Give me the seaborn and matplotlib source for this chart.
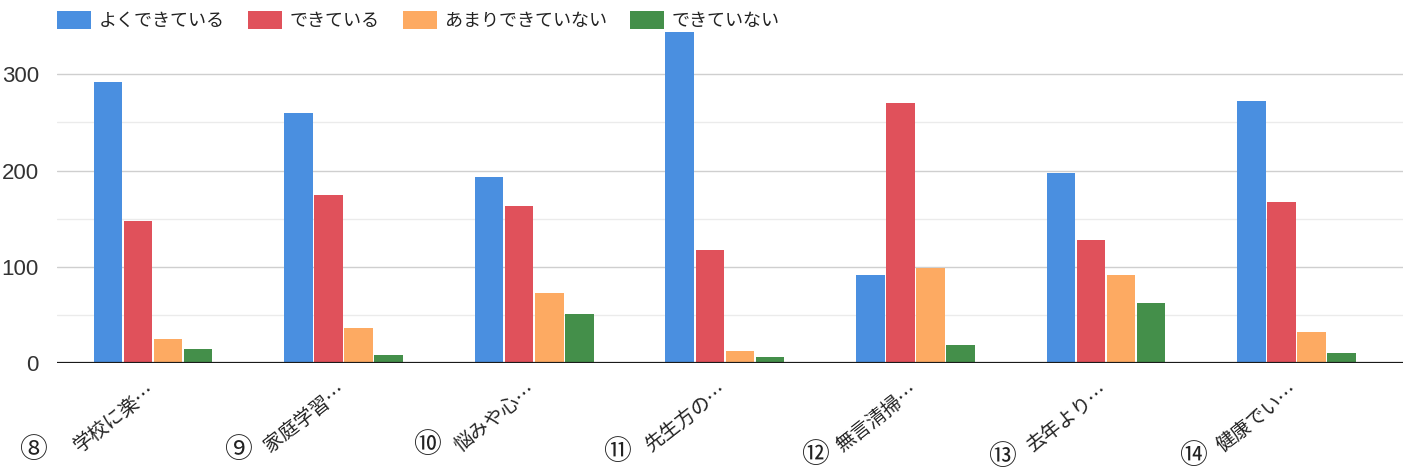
import matplotlib
matplotlib.use("Agg")
import matplotlib.pyplot as plt
import pandas as pd
import seaborn as sns

# Survey items (abbreviated as on the axis) and their question numbers
items = ["学校に楽…", "家庭学習…", "悩みや心…", "先生方の…", "無言清掃…", "去年より…", "健康でい…"]
item_numbers = ["⑧", "⑨", "⑩", "⑪", "⑫", "⑬", "⑭"]

# Answer categories
answers = ["よくできている", "できている", "あまりできていない", "できていない"]

# Number of respondents per answer, one list per item
well_done = [292, 260, 193, 344, 92, 198, 272]
done = [148, 175, 163, 118, 270, 128, 167]
mostly_not = [25, 37, 73, 13, 99, 92, 32]
not_done = [15, 9, 51, 7, 19, 63, 11]

yticks = [0, 100, 200, 300]
colors = ["#4a8fe0", "#e0515b", "#fdaa62", "#448f4a"]

rows = []
for series, answer in zip([well_done, done, mostly_not, not_done], answers):
    for item, value in zip(items, series):
        rows.append({"項目": item, "回答": answer, "人数": value})
df = pd.DataFrame(rows)

sns.set_theme(style="white")
plt.rcParams["font.family"] = ["Noto Sans CJK JP", "DejaVu Sans"]

W, H = 1407, 471
fig = plt.figure(figsize=(W / 100, H / 100), dpi=100)
fig.patch.set_facecolor("white")

# axes placed so that y=0 sits at 363 px and the plot spans x 57..1403 px
ax_left, ax_right = 57 / W, 1403 / W
ax_bottom = (H - 363.3) / H
ax_top = (H - 26.1) / H
ax = fig.add_axes([ax_left, ax_bottom, ax_right - ax_left, ax_top - ax_bottom])

sns.barplot(
    data=df, x="項目", y="人数", hue="回答", hue_order=answers, order=items,
    palette=colors, saturation=1, width=0.63, gap=0.05, linewidth=0, ax=ax,
)

ax.set_xlim(-0.505, 6.56)
ax.set_ylim(0, 350)
ax.set_xlabel("")
ax.set_ylabel("")
for s in ax.spines.values():
    s.set_visible(False)

# gridlines: major at each 100, faint minor halfway between
ax.set_yticks(yticks)
ax.set_yticks([50, 150, 250], minor=True)
ax.set_axisbelow(True)
ax.yaxis.grid(True, which="major", color="#cfcfcf", lw=1.0)
ax.yaxis.grid(True, which="minor", color="#ebebeb", lw=1.0)
ax.axhline(0, color="#1a1a1a", lw=1.6, zorder=5)

ax.tick_params(axis="y", which="both", length=0, pad=13, labelsize=16, labelcolor="#333333")
for lab in ax.get_yticklabels():
    lab.set_fontfamily(["Liberation Sans Narrow", "Liberation Sans", "DejaVu Sans"])

ax.tick_params(axis="x", length=0, pad=18, labelsize=14, labelcolor="#222222")
for lab in ax.get_xticklabels():
    lab.set_rotation(38)
    lab.set_ha("right")
    lab.set_va("center")
    lab.set_rotation_mode("anchor")

sns.move_legend(
    ax, "upper left", bbox_to_anchor=(57 / W, 1 - 11 / H), bbox_transform=fig.transFigure,
    ncol=4, frameon=False, title=None, fontsize=13, handlelength=1.9, handleheight=1.17,
    handletextpad=0.4, columnspacing=1.3, borderpad=0, borderaxespad=0,
)
for t in ax.get_legend().get_texts():
    t.set_color("#222222")

# question numbers beneath each slanted label
num_pos = [(33, 450), (238, 450), (427, 445), (617, 452), (815, 455), (1002, 457), (1193, 456)]
for (px, py), num in zip(num_pos, item_numbers):
    fig.text(px / W, 1 - py / H, num, ha="center", va="center", fontsize=20,
             color="#222222", family=["Noto Sans CJK JP", "DejaVu Sans"])

fig.savefig("out.png", dpi=100, facecolor="white")
